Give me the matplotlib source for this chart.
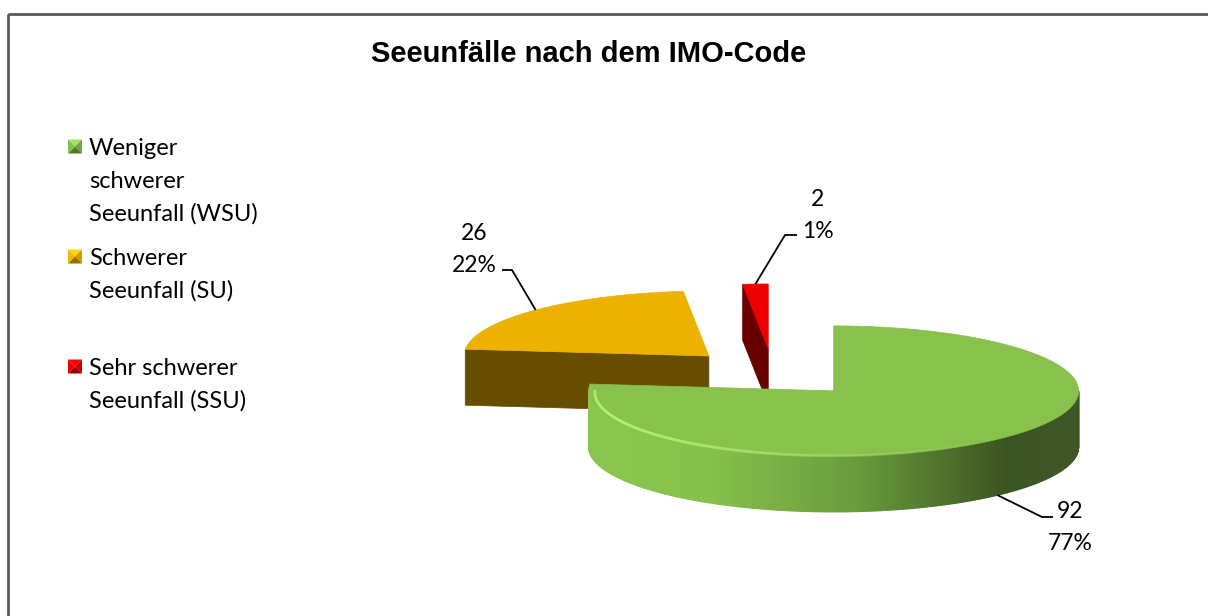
import numpy as np
import matplotlib.pyplot as plt
from matplotlib.patches import Polygon, Rectangle
from matplotlib.collections import PolyCollection, LineCollection
from matplotlib.colors import LinearSegmentedColormap, to_rgb

# data
title = "Seeunfälle nach dem IMO-Code"
categories = ["Weniger\nschwerer\nSeeunfall (WSU)",
              "Schwerer\nSeeunfall (SU)",
              "Sehr schwerer\nSeeunfall (SSU)"]
values = [92, 26, 2]
pct_labels = ["77%", "22%", "1%"]

# styles
top_colors = ["#89C14D", "#EDB200", "#EE0000"]
side_colors = ["#3B5423", "#664D00", "#680000"]
legend_colors = ["#7DB846", "#E8AE00", "#E30000"]
green_side = LinearSegmentedColormap.from_list(
    "gside", [(0, "#8AC64E"), (0.25, "#86C04C"), (0.55, "#6A9A3C"),
              (0.85, "#3B5423"), (1, "#3E5726")])

# projected pie geometry (pixels)
CX, CY = 773, 373
RX, RY = 245, 65
DEPTH = 56
EXPLODE = 0.37

FONT = "Lato"

fig = plt.figure(figsize=(12.08, 6.16), dpi=100)
ax = fig.add_axes([0, 0, 1, 1])
ax.set_xlim(0, 1208)
ax.set_ylim(616, 0)
ax.axis("off")

ax.add_patch(Rectangle((8, 14), 1300, 700, fill=False, ec="#595959", lw=2))


def proj(vx, vy, ang, r=1.0, dz=0.0):
    a = np.radians(ang)
    return vx + r * RX * np.sin(a), vy - r * RY * np.cos(a) + dz


fracs = np.array(values) / sum(values)
ends = np.cumsum(fracs) * 360
starts = ends - fracs * 360
mids = (starts + ends) / 2

verts = []
for m in mids:
    a = np.radians(m)
    verts.append((CX + EXPLODE * RX * np.sin(a), CY - EXPLODE * RY * np.cos(a)))

# paint back to front
order = np.argsort(-np.cos(np.radians(mids)))
for i in order:
    s, e = starts[i], ends[i]
    vx, vy = verts[i]

    # radial faces
    for ang, visible in [(s, np.sin(np.radians(s)) < -1e-9),
                         (e, np.sin(np.radians(e)) > 1e-9)]:
        if visible:
            ox, oy = proj(vx, vy, ang)
            quad = [(vx, vy), (ox, oy), (ox, oy + DEPTH), (vx, vy + DEPTH)]
            ax.add_patch(Polygon(quad, closed=True, fc=side_colors[i],
                                 ec=side_colors[i], lw=0.5))

    # outer curved side (front half only)
    a0, a1 = max(s, 90), min(e, 270)
    if a1 > a0:
        angs = np.linspace(a0, a1, 241)
        xs, ys = proj(vx, vy, angs)
        quads, cols = [], []
        for k in range(len(angs) - 1):
            quads.append([(xs[k], ys[k]), (xs[k + 1], ys[k + 1]),
                          (xs[k + 1], ys[k + 1] + DEPTH), (xs[k], ys[k] + DEPTH)])
            t = ((xs[k] + xs[k + 1]) / 2 - (vx - RX)) / (2 * RX)
            if i == 0:
                cols.append(green_side(t))
            else:
                cols.append(to_rgb(side_colors[i]))
        pc = PolyCollection(quads, facecolors=cols, edgecolors=cols, linewidths=0.8)
        pc.set_snap(False)
        ax.add_collection(pc)

    # top face
    angs = np.linspace(s, e, 200)
    xs, ys = proj(vx, vy, angs)
    pts = [(vx, vy)] + list(zip(xs, ys))
    ax.add_patch(Polygon(pts, closed=True, fc=top_colors[i],
                         ec=top_colors[i], lw=0.5))

    # light rim highlight on the green top
    if i == 0:
        hang = np.linspace(272, 140, 140)
        hx, hy = proj(vx, vy, hang, r=0.975, dz=1.5)
        segs = [[(hx[k], hy[k]), (hx[k + 1], hy[k + 1])] for k in range(len(hang) - 1)]
        alph = np.clip(np.linspace(1.3, 0.0, len(segs)), 0, 1)
        cols = [(0.72, 0.95, 0.47, a) for a in alph]
        lc = LineCollection(segs, colors=cols, linewidths=2.0)
        lc.set_snap(False)
        ax.add_collection(lc)

# data labels with leader lines
label_pos = [(1070, 510), (474, 231), (818, 197)]
elbows = [[(1042, 517), (1053, 517)],
          [(512, 270), (502, 270)],
          [(785, 235), (797, 235)]]
for i in range(len(values)):
    vx, vy = verts[i]
    if np.cos(np.radians(mids[i])) < 0:
        ax_, ay_ = proj(vx, vy, mids[i], dz=DEPTH)
    else:
        ax_, ay_ = proj(vx, vy, mids[i])
    px = [ax_] + [p[0] for p in elbows[i]]
    py = [ay_] + [p[1] for p in elbows[i]]
    ax.plot(px, py, color="black", lw=1.3, solid_capstyle="butt")
    tx, ty = label_pos[i]
    ax.text(tx, ty + 8.5, str(values[i]), ha="center", va="baseline",
            fontsize=16.5, family=FONT)
    ax.text(tx, ty + 8.5 + 32, pct_labels[i], ha="center", va="baseline",
            fontsize=16.5, family=FONT)

# legend with bevelled square markers
for i, lab in enumerate(categories):
    yc = 147 + i * 110
    c = np.array(to_rgb(legend_colors[i]))
    h = 7
    x0, y0 = 75, yc - 0.5
    tl, tr, br, bl, cc = (x0 - h, y0 - h), (x0 + h, y0 - h), (x0 + h, y0 + h), (x0 - h, y0 + h), (x0, y0)
    shades = [c * 1.25, c * 0.9, c * 0.65, c * 1.05]
    for tri, col in zip([(tl, tr, cc), (tr, br, cc), (br, bl, cc), (bl, tl, cc)], shades):
        ax.add_patch(Polygon(tri, closed=True, fc=np.clip(col, 0, 1), ec="none"))
    for j, line in enumerate(lab.split("\n")):
        ax.text(89, yc + 8 + j * 33, line, ha="left", va="baseline",
                fontsize=17, family=FONT)

ax.text(589, 62, title, ha="center", va="baseline", fontsize=21,
        fontweight="bold", family="Liberation Sans")

fig.savefig("out.png", dpi=100)
